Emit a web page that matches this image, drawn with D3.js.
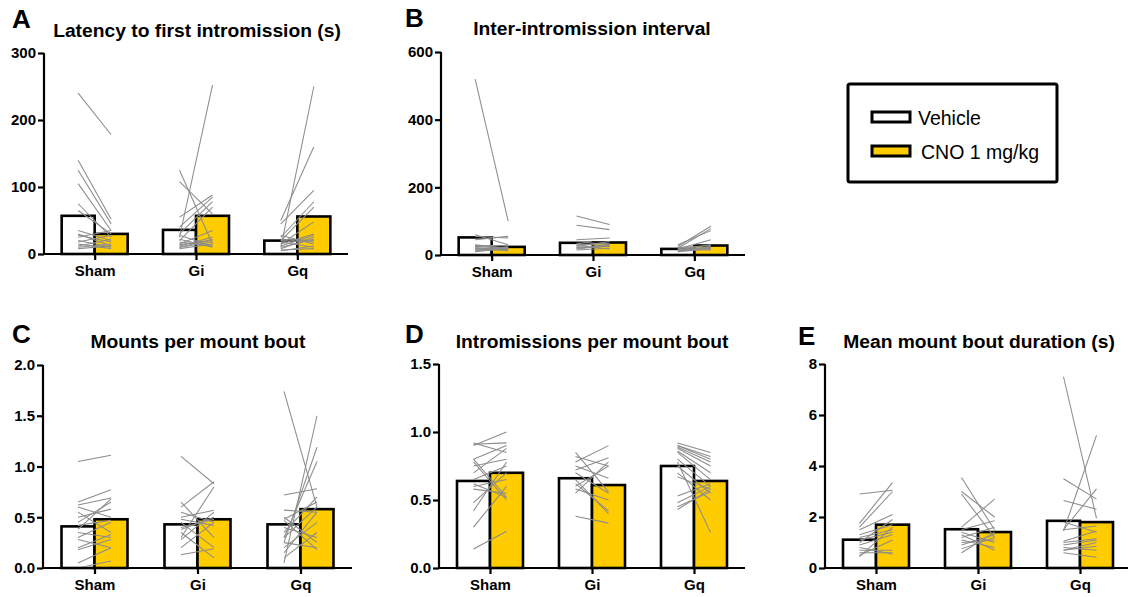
<!DOCTYPE html>
<html>
<head>
<meta charset="utf-8">
<script src="https://cdn.jsdelivr.net/npm/d3@7"></script>
<style>
  html, body { margin: 0; padding: 0; background: #fff; }
  svg text { font-family: "Liberation Sans", Arial, sans-serif; }
</style>
</head>
<body>
<svg id="fig" width="1128" height="597"></svg>
<script>
// Groups on the x axis
const groups = ["Sham", "Gi", "Gq"];

// Y-axis ticks per panel
const ticksLatency = [0, 100, 200, 300];
const ticksInterval = [0, 200, 400, 600];
const ticksMounts = [0, 0.5, 1.0, 1.5, 2.0];
const ticksIntrom = [0, 0.5, 1.0, 1.5];
const ticksDuration = [0, 2, 4, 6, 8];

// Group means (Sham, Gi, Gq)
const latencyVehicle = [57, 36, 20];
const latencyCno = [30, 57, 56];
const intervalVehicle = [52, 36, 18];
const intervalCno = [24, 37, 28];
const mountsVehicle = [0.41, 0.43, 0.43];
const mountsCno = [0.48, 0.48, 0.58];
const intromVehicle = [0.64, 0.66, 0.75];
const intromCno = [0.70, 0.61, 0.64];
const durationVehicle = [1.11, 1.52, 1.85];
const durationCno = [1.70, 1.41, 1.80];

// Individual animals: [vehicle, CNO]
const latencySham = [[240,178],[140,52],[125,45],[105,35],[75,25],[65,30],[35,20],[30,12],[25,35],[20,10],[18,28],[15,8],[12,22],[10,15],[8,12],[28,18]];
const latencyGi = [[25,252],[125,15],[108,60],[55,88],[40,85],[30,78],[20,70],[15,35],[12,25],[10,18],[18,12],[22,10],[8,15],[14,20],[28,12],[10,22]];
const latencyGq = [[10,250],[50,160],[45,95],[25,78],[20,70],[15,48],[12,28],[8,25],[22,20],[5,12],[18,10],[10,22],[28,15],[6,8],[15,30],[20,18]];

const intervalSham = [[520,100],[60,30],[55,50],[45,55],[20,15],[25,20],[18,22],[15,18],[12,25],[22,12],[30,20],[28,28],[15,15],[20,18],[10,20],[25,22]];
const intervalGi = [[115,90],[88,75],[45,50],[40,30],[30,35],[35,25],[25,40],[20,30],[15,20],[28,18],[22,25],[18,28]];
const intervalGq = [[25,85],[20,78],[30,72],[18,45],[15,30],[12,25],[20,20],[15,22],[10,18],[22,28],[18,15],[12,20]];

const mountsSham = [[1.05,1.11],[0.65,0.77],[0.62,0.69],[0.6,0.5],[0.55,0.35],[0.5,0.58],[0.45,0.65],[0.38,0.68],[0.35,0.3],[0.3,0.45],[0.28,0.2],[0.2,0.33],[0.18,0.28],[0.05,0.2],[0.0,0.07],[0.42,0.47]];
const mountsGi = [[1.1,0.83],[0.65,0.3],[0.6,0.85],[0.55,0.45],[0.5,0.57],[0.45,0.2],[0.4,0.48],[0.35,0.1],[0.3,0.8],[0.28,0.55],[0.2,0.45],[0.13,0.19],[0.38,0.5],[0.48,0.42]];
const mountsGq = [[1.74,0.6],[0.05,1.5],[0.25,1.19],[0.3,1.05],[0.72,0.78],[0.57,0.55],[0.48,0.65],[0.47,0.18],[0.4,0.3],[0.35,0.7],[0.25,0.2],[0.2,0.45],[0.15,0.55],[0.1,0.35],[0.5,0.25],[0.3,0.6]];

const intromSham = [[0.9,1.0],[0.91,0.92],[0.92,0.85],[0.8,0.9],[0.78,0.5],[0.75,0.8],[0.65,0.75],[0.6,0.65],[0.58,0.55],[0.48,0.7],[0.42,0.78],[0.3,0.6],[0.14,0.27],[0.8,0.52],[0.62,0.52],[0.7,0.88]];
const intromGi = [[0.85,0.56],[0.82,0.75],[0.78,0.9],[0.75,0.66],[0.72,0.81],[0.65,0.4],[0.6,0.75],[0.58,0.5],[0.55,0.78],[0.38,0.33],[0.7,0.55],[0.62,0.42]];
const intromGq = [[0.92,0.85],[0.9,0.82],[0.89,0.78],[0.88,0.75],[0.86,0.7],[0.85,0.65],[0.8,0.6],[0.78,0.26],[0.75,0.55],[0.7,0.5],[0.67,0.58],[0.53,0.62],[0.48,0.6],[0.45,0.56],[0.43,0.58],[0.9,0.8]];

const durationSham = [[2.9,3.05],[1.75,3.35],[1.6,3.0],[1.5,2.1],[1.3,1.7],[1.2,1.5],[1.0,1.9],[0.9,1.3],[0.7,0.7],[0.6,0.6],[0.5,1.1],[0.45,1.6],[0.8,0.55],[1.1,1.4]];
const durationGi = [[3.55,1.5],[3.0,2.0],[2.9,1.2],[1.6,2.7],[1.5,1.85],[1.4,1.0],[1.2,1.6],[1.1,0.8],[0.9,1.3],[0.75,1.2],[0.6,1.4],[1.3,0.7],[1.0,1.1]];
const durationGq = [[7.5,1.95],[1.45,5.2],[3.5,2.7],[2.65,2.3],[1.5,3.1],[1.8,1.4],[1.5,1.65],[1.0,1.15],[0.9,1.1],[0.8,0.7],[0.7,1.0],[0.6,0.42],[1.05,1.45],[0.7,0.85]];

const legendLabels = ["Vehicle", "CNO 1 mg/kg"];
const fillVehicle = "#ffffff";
const fillCno = "#ffcc00";

const svg = d3.select("#fig");

// widen a text element horizontally by factor k
function stretch(sel, k) {
  const n = sel.node();
  const w = n.getComputedTextLength();
  sel.attr("textLength", w * k).attr("lengthAdjust", "spacingAndGlyphs");
}

function drawPanel(p) {
  const g = svg.append("g");
  const y = d3.scaleLinear().domain([0, p.max]).range([p.bottom, p.top]);
  const x = d3.scalePoint().domain(groups).range([p.left, p.right]).padding(0.5);
  const bw = 33;

  // bars
  groups.forEach((grp, i) => {
    const cx = x(grp);
    g.append("rect")
      .attr("x", cx - bw).attr("y", y(p.veh[i]))
      .attr("width", bw).attr("height", y(0) - y(p.veh[i]))
      .attr("fill", fillVehicle).attr("stroke", "#000").attr("stroke-width", 2.6);
    g.append("rect")
      .attr("x", cx).attr("y", y(p.cno[i]))
      .attr("width", bw).attr("height", y(0) - y(p.cno[i]))
      .attr("fill", fillCno).attr("stroke", "#000").attr("stroke-width", 2.6);
  });

  // paired lines for each animal
  groups.forEach((grp, i) => {
    const cx = x(grp);
    g.append("g").selectAll("line").data(p.pairs[i]).join("line")
      .attr("x1", cx - bw / 2).attr("x2", cx + bw / 2)
      .attr("y1", d => y(d[0])).attr("y2", d => y(d[1]))
      .attr("stroke", "#8c8c8c").attr("stroke-width", 1.05);
  });

  // y axis
  const ya = g.append("g").attr("transform", `translate(${p.left},0)`)
    .call(d3.axisLeft(y).tickValues(p.ticks).tickSize(6).tickPadding(2)
      .tickFormat(p.fmt));
  ya.select(".domain").attr("stroke", "#000").attr("stroke-width", 2.2)
    .attr("d", `M0,${p.top}V${p.bottom + 1}`);
  ya.selectAll(".tick line").attr("stroke", "#000").attr("stroke-width", 2.2);
  ya.selectAll(".tick text").attr("font-size", 15).attr("font-weight", "bold")
    .attr("fill", "#000").attr("font-family", "Liberation Sans, Arial, sans-serif");

  // x axis
  const xa = g.append("g").attr("transform", `translate(0,${p.bottom})`)
    .call(d3.axisBottom(x).tickSize(6).tickPadding(5));
  xa.select(".domain").attr("stroke", "#000").attr("stroke-width", 2.2)
    .attr("d", `M${p.left - 1},0H${p.right}`);
  xa.selectAll(".tick line").attr("stroke", "#000").attr("stroke-width", 2.2);
  xa.selectAll(".tick text").attr("font-size", 15).attr("font-weight", "bold")
    .attr("fill", "#000").attr("font-family", "Liberation Sans, Arial, sans-serif");

  // title and panel letter
  const t = g.append("text").attr("x", p.titleX).attr("y", p.titleY)
    .attr("text-anchor", "middle").attr("font-size", 17.5).attr("font-weight", "bold")
    .text(p.title);
  stretch(t, 1.1);
  g.append("text").attr("x", p.letterX).attr("y", p.letterY)
    .attr("font-size", 26).attr("font-weight", "bold").text(p.letter);
}

const fmtInt = d3.format("d");
const fmt1 = d3.format(".1f");

drawPanel({ letter: "A", title: "Latency to first intromission (s)", left: 44, right: 348, top: 53, bottom: 254,
  max: 300, ticks: ticksLatency, fmt: fmtInt, veh: latencyVehicle, cno: latencyCno,
  pairs: [latencySham, latencyGi, latencyGq], titleX: 197, titleY: 37, letterX: 12, letterY: 28 });
drawPanel({ letter: "B", title: "Inter-intromission interval", left: 441, right: 745, top: 52, bottom: 255,
  max: 600, ticks: ticksInterval, fmt: fmtInt, veh: intervalVehicle, cno: intervalCno,
  pairs: [intervalSham, intervalGi, intervalGq], titleX: 592, titleY: 35, letterX: 405, letterY: 27 });
drawPanel({ letter: "C", title: "Mounts per mount bout", left: 43, right: 352, top: 365, bottom: 568,
  max: 2.0, ticks: ticksMounts, fmt: fmt1, veh: mountsVehicle, cno: mountsCno,
  pairs: [mountsSham, mountsGi, mountsGq], titleX: 198, titleY: 348, letterX: 12, letterY: 343 });
drawPanel({ letter: "D", title: "Intromissions per mount bout", left: 439, right: 745, top: 364, bottom: 568,
  max: 1.5, ticks: ticksIntrom, fmt: fmt1, veh: intromVehicle, cno: intromCno,
  pairs: [intromSham, intromGi, intromGq], titleX: 592, titleY: 348, letterX: 405, letterY: 343 });
drawPanel({ letter: "E", title: "Mean mount bout duration (s)", left: 825, right: 1131, top: 364, bottom: 568,
  max: 8, ticks: ticksDuration, fmt: fmtInt, veh: durationVehicle, cno: durationCno,
  pairs: [durationSham, durationGi, durationGq], titleX: 979, titleY: 348, letterX: 798, letterY: 345 });

// legend
const lg = svg.append("g");
lg.append("rect").attr("x", 848).attr("y", 84).attr("width", 209).attr("height", 98)
  .attr("rx", 2).attr("fill", "#fff").attr("stroke", "#000").attr("stroke-width", 3);
[fillVehicle, fillCno].forEach((f, i) => {
  lg.append("rect").attr("x", 872).attr("y", 112 + i * 34).attr("width", 38).attr("height", 10)
    .attr("fill", f).attr("stroke", "#000").attr("stroke-width", 3);
  lg.append("text").attr("x", i === 0 ? 918 : 921).attr("y", 125 + i * 34)
    .attr("font-size", 19.5).attr("fill", "#000").text(legendLabels[i]);
});
</script>
</body>
</html>
